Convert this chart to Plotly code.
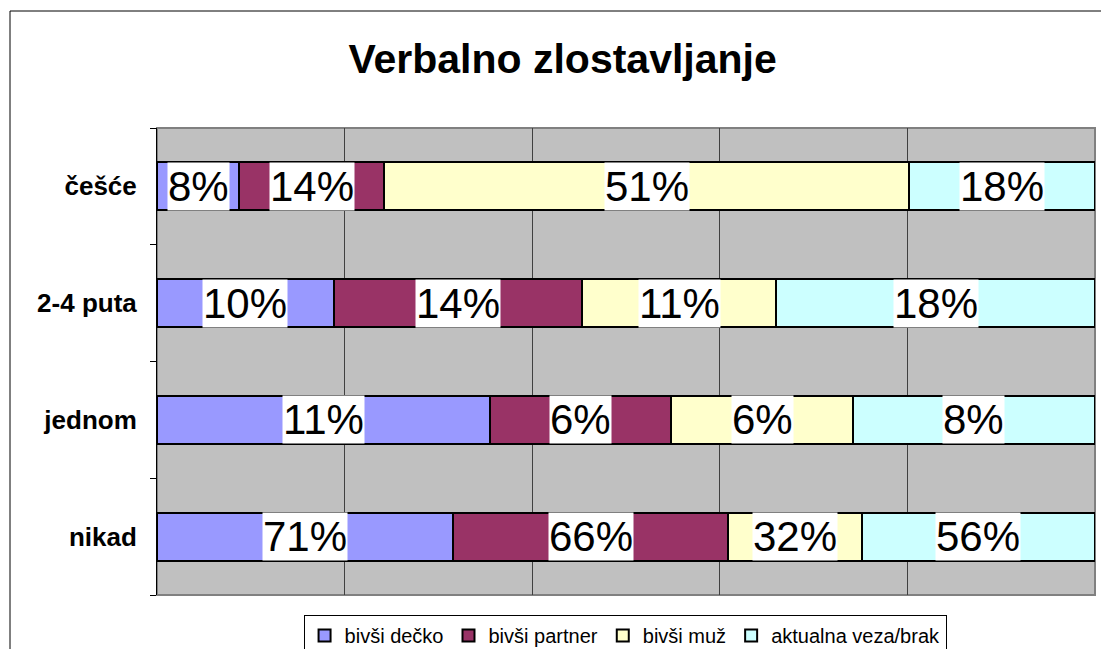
import plotly.graph_objects as go
import numpy as np

categories = ["nikad", "jednom", "2-4 puta", "češće"]
series_names = ["bivši dečko", "bivši partner", "bivši muž", "aktualna veza/brak"]
bivsi_decko = [71, 11, 10, 8]
bivsi_partner = [66, 6, 14, 14]
bivsi_muz = [32, 6, 11, 51]
aktualna = [56, 8, 18, 18]
colors = ["#9999FF", "#993366", "#FFFFCC", "#CCFFFF"]

series_values = [bivsi_decko, bivsi_partner, bivsi_muz, aktualna]
FONT = "Arial, Liberation Sans, sans-serif"

fig = go.Figure()
for name, vals, col in zip(series_names, series_values, colors):
    fig.add_trace(go.Bar(
        y=categories, x=vals, name=name, orientation="h",
        marker=dict(color=col, line=dict(color="black", width=2)),
        hoverinfo="x+name",
    ))

# data labels with white boxes at the centre of each normalised segment
arr = np.array(series_values, dtype=float)  # series x categories
totals = arr.sum(axis=0)
pct = arr / totals * 100
cum = np.cumsum(pct, axis=0)
annotations = []
for j in range(arr.shape[0]):
    for i, cat in enumerate(categories):
        mid = cum[j, i] - pct[j, i] / 2
        annotations.append(dict(
            x=mid, y=cat, xref="x", yref="y", text=f"{int(arr[j, i])}%",
            showarrow=False, font=dict(family=FONT, size=42, color="black"),
            bgcolor="white", borderpad=0,
        ))

fig.update_layout(
    width=1101, height=649, autosize=False,
    barmode="stack", barnorm="percent", bargap=0.59,
    paper_bgcolor="white", plot_bgcolor="#C0C0C0",
    margin=dict(l=157, r=6, t=128, b=54, autoexpand=False),
    font=dict(family=FONT, color="black"),
    title=dict(text="<b>Verbalno zlostavljanje</b>", x=0.511, xref="container",
               xanchor="center", y=0.909, yref="container", yanchor="middle",
               font=dict(family=FONT, size=41, color="black")),
    xaxis=dict(range=[0, 100], dtick=20, showgrid=True, gridcolor="#404040",
               gridwidth=1, showticklabels=False, zeroline=False, ticks="",
               showline=False, fixedrange=True),
    yaxis=dict(categoryorder="array", categoryarray=categories,
               showline=True, linecolor="black", linewidth=1,
               ticks="outside", ticklen=6, tickcolor="black", tickson="boundaries",
               tickfont=dict(family=FONT, size=26, color="black", weight="bold"),
               ticklabelstandoff=14, showgrid=False, zeroline=False),
    legend=dict(orientation="h", x=0.499, xanchor="center", y=-0.043, yanchor="top",
                bordercolor="black", borderwidth=1, bgcolor="white",
                font=dict(family=FONT, size=20, color="black"),
                traceorder="normal", itemwidth=30, tracegroupgap=0),
    annotations=annotations,
    shapes=[
        dict(type="rect", xref="x domain", yref="y domain", x0=0, x1=1, y0=0, y1=1,
             line=dict(color="#808080", width=2), layer="below"),
        dict(type="rect", xref="paper", yref="paper",
             x0=(10 - 157) / 938, x1=(1110 - 157) / 938,
             y0=(595 - 660) / 467, y1=(595 - 11) / 467,
             line=dict(color="black", width=1), layer="below"),
    ],
)

fig.write_html("out.html",
               config={"displayModeBar": False, "responsive": False},
               post_script="document.body.style.margin='0';document.body.style.overflow='hidden';")
